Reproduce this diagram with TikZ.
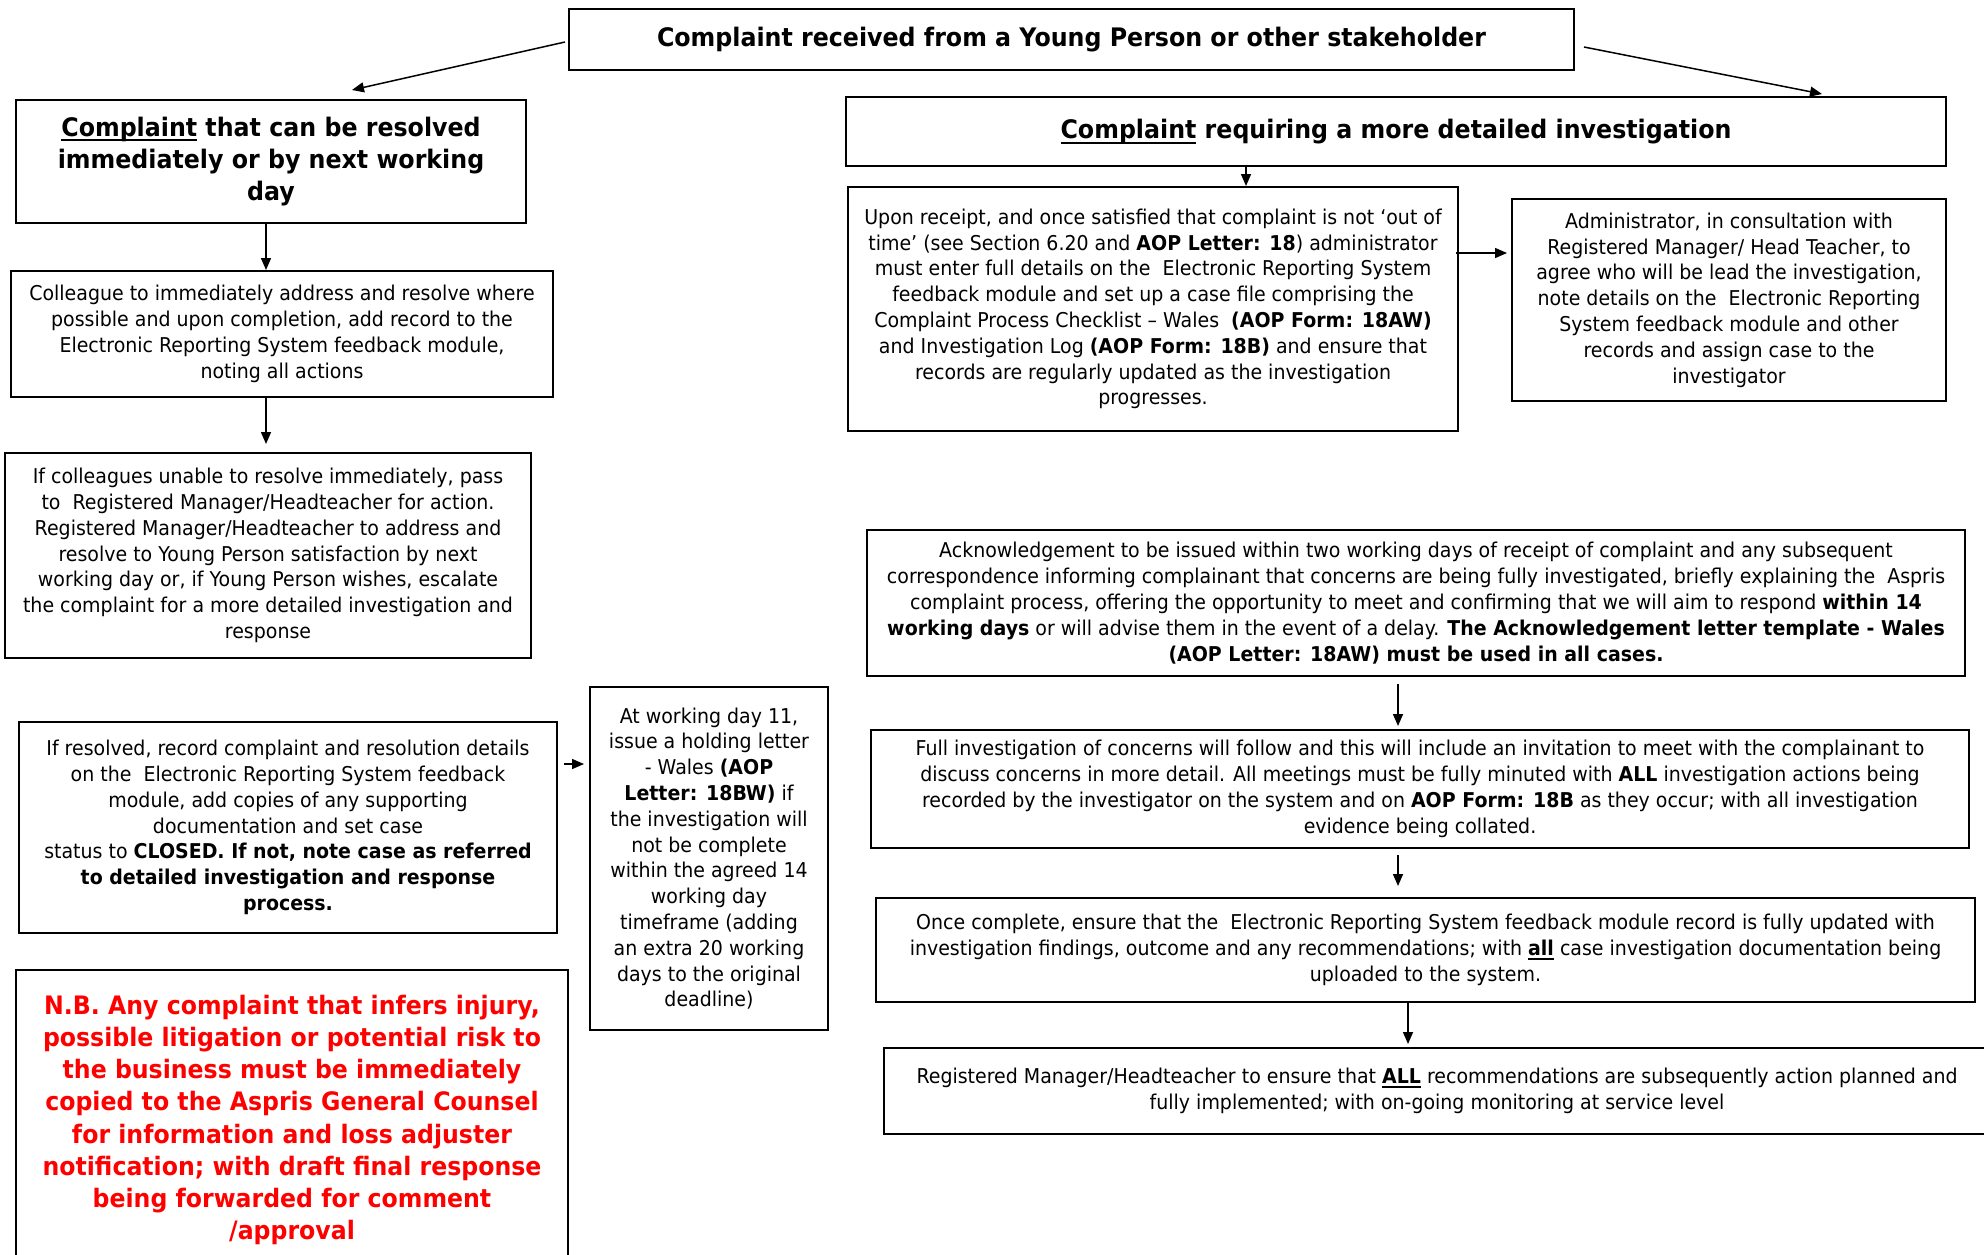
\documentclass[tikz,border=0pt]{standalone}
\usepackage{fontspec}
\setmainfont{DejaVu Sans}[FakeStretch=0.93]
\usetikzlibrary{arrows.meta}
\definecolor{nbred}{RGB}{255,0,0}
\newcommand{\myul}[1]{\setbox0\hbox{#1}\rlap{\rule[-0.2em]{\wd0}{0.075em}}\box0\relax}
\begin{document}
\begin{tikzpicture}[x=0.5pt,y=-0.5pt,
  box/.style={draw, line width=1pt, align=center, inner sep=0pt,
    font=\fontsize{10.2}{12.9}\selectfont},
  headbox/.style={box, font=\bfseries\fontsize{12.75}{16.1}\selectfont},
  nbbox/.style={box, text=nbred, font=\bfseries\fontsize{12.7}{16.1}\selectfont},
  arr/.style={-{Triangle[length=6pt,width=5pt]}, line width=0.75pt}]
\useasboundingbox (0,0) rectangle (1984,1254);
\fill[white] (0,0) rectangle (1984,1254);
\clip (0,0) rectangle (1984,1254);

% top
\node[headbox, minimum width=502.5pt, minimum height=30.5pt] (top) at (1071.5,39.5)
  {Complaint received from a Young Person or other stakeholder};

% headers
\node[headbox, minimum width=255pt, minimum height=61.5pt] (lh) at (271,161.5)
  {\myul{Complaint} that can be resolved\\immediately or by next working\\day};
\node[headbox, minimum width=550pt, minimum height=34.5pt] (rh) at (1396,131.5)
  {\myul{Complaint} requiring a more detailed investigation};

% left column
\node[box, minimum width=271pt, minimum height=63pt] (l1) at (282,334)
  {Colleague to immediately address and resolve where\\possible and upon completion, add record to the\\Electronic Reporting System feedback module,\\noting all actions};
\node[box, minimum width=263pt, minimum height=102.5pt] (l2) at (268,555.5)
  {If colleagues unable to resolve immediately, pass\\to~ Registered Manager/Headteacher for action.\\Registered Manager/Headteacher to address and\\resolve to Young Person satisfaction by next\\working day or, if Young Person wishes, escalate\\the complaint for a more detailed investigation and\\response};
\node[box, minimum width=269pt, minimum height=105.5pt] (l3) at (288,827.5)
  {If resolved, record complaint and resolution details\\on the~ Electronic Reporting System feedback\\module, add copies of any supporting\\documentation and set case\\status to \textbf{CLOSED. If not, note case as referred}\\\textbf{to detailed investigation and response}\\\textbf{process.}};
\node[box, minimum width=119pt, minimum height=171.5pt] (hold) at (709,858.5)
  {At working day 11,\\issue a holding letter\\- Wales \textbf{(AOP}\\\textbf{Letter: 18BW)} if\\the investigation will\\not be complete\\within the agreed 14\\working day\\timeframe (adding\\an extra 20 working\\days to the original\\deadline)};
\node[nbbox, minimum width=276pt, minimum height=150pt] (nb) at (292,1120)
  {N.B. Any complaint that infers injury,\\possible litigation or potential risk to\\the business must be immediately\\copied to the Aspris General Counsel\\for information and loss adjuster\\notification; with draft final response\\being forwarded for comment\\/approval};

% right column
\node[box, minimum width=305pt, minimum height=122pt] (r1) at (1153,309)
  {Upon receipt, and once satisfied that complaint is not ‘out of\\time’ (see Section 6.20 and \textbf{AOP Letter: 18}) administrator\\must enter full details on the~ Electronic Reporting System\\feedback module and set up a case file comprising the\\Complaint Process Checklist – Wales~ \textbf{(AOP Form: 18AW)}\\and Investigation Log \textbf{(AOP Form: 18B)} and ensure that\\records are regularly updated as the investigation\\progresses.};
\node[box, minimum width=217pt, minimum height=101pt] (r2) at (1729,300)
  {Administrator, in consultation with\\Registered Manager/ Head Teacher, to\\agree who will be lead the investigation,\\note details on the~ Electronic Reporting\\System feedback module and other\\records and assign case to the\\investigator};
\node[box, minimum width=549pt, minimum height=73pt] (r3) at (1416,603)
  {Acknowledgement to be issued within two working days of receipt of complaint and any subsequent\\correspondence informing complainant that concerns are being fully investigated, briefly explaining the~ Aspris\\complaint process, offering the opportunity to meet and confirming that we will aim to respond \textbf{within 14}\\\textbf{working days} or will advise them in the event of a delay. \textbf{The Acknowledgement letter template - Wales}\\\textbf{(AOP Letter: 18AW) must be used in all cases.}};
\node[box, minimum width=549pt, minimum height=59pt] (r4) at (1420,789)
  {Full investigation of concerns will follow and this will include an invitation to meet with the complainant to\\discuss concerns in more detail. All meetings must be fully minuted with \textbf{ALL} investigation actions being\\recorded by the investigator on the system and on \textbf{AOP Form: 18B} as they occur; with all investigation\\evidence being collated.};
\node[box, minimum width=549.5pt, minimum height=52pt] (r5) at (1425.5,950)
  {Once complete, ensure that the~ Electronic Reporting System feedback module record is fully updated with\\investigation findings, outcome and any recommendations; with \textbf{\myul{all}} case investigation documentation being\\uploaded to the system.};
\node[box, minimum width=553pt, minimum height=43pt] (r6) at (1437,1091)
  {Registered Manager/Headteacher to ensure that \textbf{\myul{ALL}} recommendations are subsequently action planned and\\fully implemented; with on-going monitoring at service level};

% free ends
\coordinate (lhin) at (352,90);
\coordinate (rhin) at (1822,94);

% connectors
\draw[arr] ([xshift=-1.5pt,yshift=-1.25pt]top.west) -- (lhin);
\draw[arr] ([xshift=4.5pt,yshift=-3.75pt]top.east) -- (rhin);
\draw[arr] ([xshift=-2.5pt]lh.south) -- ([xshift=-2.5pt]lh.south |- l1.north);
\draw[arr] ([xshift=-8pt]l1.south) -- ([xshift=-8pt,yshift=4pt]l1.south |- l2.north);
\draw[arr] ([xshift=3pt,yshift=31.75pt]l3.east) -- ([xshift=-2.5pt,yshift=31.75pt]l3.east -| hold.west);
\draw[arr] ([xshift=-75pt]rh.south) -- ([xshift=-75pt]rh.south |- r1.north);
\draw[arr] ([xshift=-1.5pt,yshift=28pt]r1.east) -- ([xshift=-2pt,yshift=28pt]r1.east -| r2.west);
\draw[arr] ([xshift=-9pt,yshift=-3.5pt]r3.south) -- ([xshift=-9pt,yshift=1.5pt]r3.south |- r4.north);
\draw[arr] ([xshift=-11pt,yshift=-3pt]r4.south) -- ([xshift=-11pt,yshift=5.5pt]r4.south |- r5.north);
\draw[arr] ([xshift=-8.75pt]r5.south) -- ([xshift=-8.75pt,yshift=1.5pt]r5.south |- r6.north);
\end{tikzpicture}
\end{document}
